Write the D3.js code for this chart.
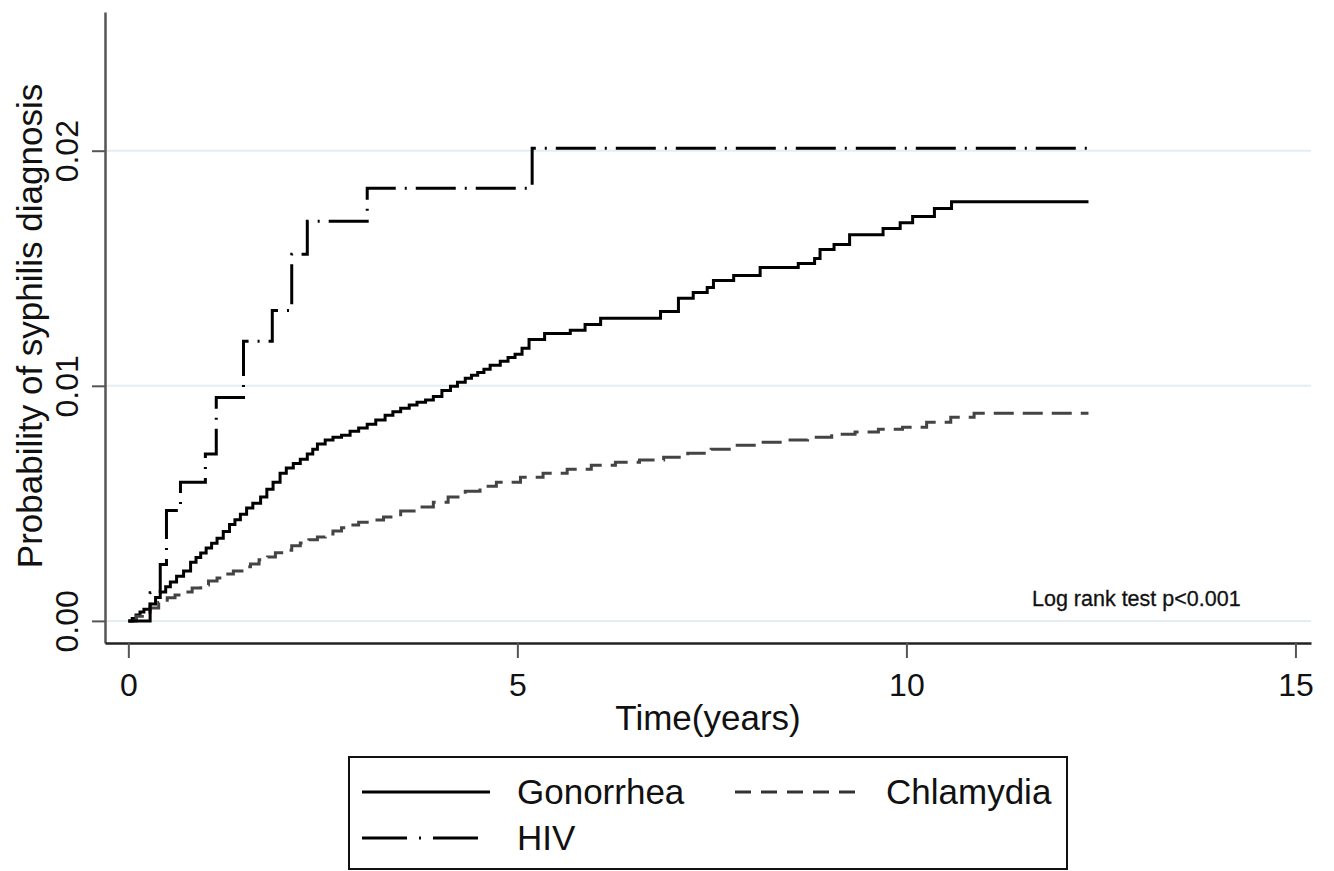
<!DOCTYPE html>
<html>
<head>
<meta charset="utf-8">
<script src="https://cdn.jsdelivr.net/npm/d3@7"></script>
<style>
  body { margin: 0; background: #fff; }
  text { font-family: "Liberation Sans", Arial, sans-serif; fill: #111; }
</style>
</head>
<body>
<div id="chart"></div>
<script>

// ticks
var timeTicks = [0, 5, 10, 15];
var probTicks = [0, 0.01, 0.02];

// end of follow-up (years)
var followUpEnd = 12.34;

// Kaplan-Meier failure estimates: [time, probability]
var gonorrhea = [
  [0, 0], [0.05, 0.0001], [0.1, 0.00025], [0.15, 0.00038], [0.2, 0.0005],
  [0.28, 0.00072], [0.35, 0.001], [0.41, 0.00123], [0.48, 0.00145], [0.54, 0.00166],
  [0.62, 0.0019], [0.71, 0.00212], [0.8, 0.0025], [0.87, 0.0027], [0.93, 0.00289],
  [1.0, 0.0031], [1.07, 0.0033], [1.14, 0.00352], [1.22, 0.0038], [1.3, 0.0041],
  [1.37, 0.0043], [1.44, 0.00454], [1.52, 0.0048], [1.6, 0.005], [1.7, 0.00527],
  [1.78, 0.0056], [1.86, 0.0059], [1.95, 0.00628], [2.03, 0.0065], [2.12, 0.0067],
  [2.21, 0.00688], [2.3, 0.0071], [2.37, 0.0073], [2.43, 0.00752], [2.53, 0.0077],
  [2.63, 0.00781], [2.74, 0.0079], [2.85, 0.00807], [2.96, 0.0082], [3.07, 0.00837],
  [3.18, 0.00855], [3.30, 0.00875], [3.40, 0.0089], [3.50, 0.00904], [3.61, 0.00918],
  [3.71, 0.0093], [3.82, 0.0094], [3.92, 0.00955], [4.03, 0.0098], [4.14, 0.00998],
  [4.23, 0.01015], [4.33, 0.01032], [4.41, 0.01045], [4.49, 0.01057], [4.57, 0.0107],
  [4.65, 0.01087], [4.78, 0.01104], [4.88, 0.0112], [4.97, 0.01134], [5.06, 0.0116],
  [5.15, 0.01197], [5.35, 0.01223], [5.68, 0.01236], [5.87, 0.01261], [6.07, 0.01287],
  [6.84, 0.01316], [7.07, 0.01372], [7.26, 0.01397], [7.44, 0.01418], [7.52, 0.01448],
  [7.78, 0.01469], [8.12, 0.01503], [8.61, 0.0152], [8.82, 0.01541], [8.89, 0.0158],
  [9.07, 0.01601], [9.27, 0.01643], [9.70, 0.01669], [9.92, 0.01694], [10.08, 0.0172],
  [10.36, 0.01754], [10.58, 0.01783]
];

var chlamydia = [
  [0, 0], [0.1, 0.0002], [0.18, 0.00038], [0.28, 0.00055], [0.39, 0.00078],
  [0.50, 0.00098], [0.6, 0.0011], [0.71, 0.00123], [0.82, 0.0014], [0.93, 0.00153],
  [1.03, 0.0017], [1.14, 0.00183], [1.25, 0.002], [1.35, 0.00212], [1.46, 0.0023],
  [1.57, 0.00242], [1.68, 0.0026], [1.79, 0.00272], [1.89, 0.0029], [1.99, 0.00301],
  [2.1, 0.0032], [2.21, 0.00331], [2.32, 0.00345], [2.43, 0.00357], [2.53, 0.0037],
  [2.63, 0.00382], [2.74, 0.00396], [2.85, 0.00408], [2.96, 0.0042], [3.07, 0.00429],
  [3.28, 0.00442], [3.50, 0.00467], [3.71, 0.00484], [3.92, 0.00505], [4.11, 0.00527],
  [4.33, 0.00552], [4.52, 0.00573], [4.73, 0.0059], [5.04, 0.00611], [5.33, 0.00628],
  [5.64, 0.00645], [5.95, 0.00662], [6.26, 0.00675], [6.57, 0.00684], [6.88, 0.00696],
  [7.19, 0.00713], [7.49, 0.0073], [7.80, 0.00747], [8.11, 0.0076], [8.42, 0.00769],
  [8.73, 0.00781], [9.04, 0.00794], [9.34, 0.00803], [9.64, 0.00815], [9.95, 0.00824],
  [10.26, 0.00845], [10.57, 0.00866], [10.87, 0.00883]
];

var hiv = [
  [0, 0], [0.28, 0.0012], [0.41, 0.0024], [0.49, 0.0047], [0.67, 0.0059],
  [0.99, 0.0071], [1.13, 0.0095], [1.48, 0.0119], [1.85, 0.0132], [2.10, 0.0156],
  [2.30, 0.0170], [3.07, 0.0184], [5.19, 0.0201]
];

var groups = ["Gonorrhea", "Chlamydia", "HIV"];

var width = 1334, height = 871;

var svg = d3.select("#chart").append("svg")
    .attr("width", width)
    .attr("height", height);

svg.append("rect").attr("width", width).attr("height", height).attr("fill", "white");

var x = d3.scaleLinear().domain([-0.3, 15.2]).range([105, 1311]);
var y = d3.scaleLinear().domain([-0.00094, 0.0259]).range([643, 12]);

// grid lines
svg.append("g")
    .selectAll("line")
    .data(probTicks)
    .enter().append("line")
    .attr("x1", x(-0.3)).attr("x2", x(15.2))
    .attr("y1", function(d) { return y(d); })
    .attr("y2", function(d) { return y(d); })
    .attr("stroke", "#e4eef2")
    .attr("stroke-width", 2);

// y axis
var yAxis = svg.append("g")
    .attr("transform", "translate(105,0)")
    .call(d3.axisLeft(y).tickValues(probTicks).tickFormat(d3.format(".2f")).tickSize(13).tickSizeOuter(0));
yAxis.select(".domain").attr("stroke", "#555").attr("stroke-width", 2.5);
yAxis.selectAll(".tick line").attr("stroke", "#555").attr("stroke-width", 2);
yAxis.selectAll(".tick text")
    .attr("x", 0).attr("dy", 0)
    .attr("text-anchor", "middle")
    .attr("transform", "translate(-27,0) rotate(-90)")
    .style("font-size", "32px")
    .style("font-family", "'Liberation Sans', Arial, sans-serif")
    .attr("fill", "#111");

// x axis
var xAxis = svg.append("g")
    .attr("transform", "translate(0,643)")
    .call(d3.axisBottom(x).tickValues(timeTicks).tickSize(15).tickPadding(15).tickSizeOuter(0));
xAxis.select(".domain").attr("stroke", "#222").attr("stroke-width", 2.5);
xAxis.selectAll(".tick line").attr("stroke", "#555").attr("stroke-width", 2);
xAxis.selectAll(".tick text")
    .style("font-size", "32px")
    .style("font-family", "'Liberation Sans', Arial, sans-serif")
    .attr("fill", "#111");

// axis titles
svg.append("text")
    .attr("transform", "translate(42,326) rotate(-90)")
    .attr("text-anchor", "middle")
    .style("font-size", "35px")
    .text("Probability of syphilis diagnosis");

svg.append("text")
    .attr("x", 708).attr("y", 730)
    .attr("text-anchor", "middle")
    .style("font-size", "35px")
    .text("Time(years)");

svg.append("text")
    .attr("x", 1032).attr("y", 606)
    .style("font-size", "21.5px")
    .style("stroke", "#111")
    .style("stroke-width", 0.3)
    .text("Log rank test p<0.001");

// curves
var line = d3.line()
    .x(function(d) { return x(d[0]); })
    .y(function(d) { return y(d[1]); })
    .curve(d3.curveStepAfter);

function withEnd(data) {
  return data.concat([[followUpEnd, data[data.length - 1][1]]]);
}

var styles = {
  "Gonorrhea": {data: gonorrhea, color: "#000", dash: null},
  "Chlamydia": {data: chlamydia, color: "#444", dash: "20,9"},
  "HIV": {data: hiv, color: "#000", dash: "40,9,2,9"}
};

groups.forEach(function(g) {
  svg.append("path")
      .datum(withEnd(styles[g].data))
      .attr("d", line)
      .attr("fill", "none")
      .attr("stroke", styles[g].color)
      .attr("stroke-width", 3)
      .attr("stroke-dasharray", styles[g].dash);
});

// legend
var legend = svg.append("g");
legend.append("rect")
    .attr("x", 349).attr("y", 757)
    .attr("width", 718).attr("height", 112)
    .attr("fill", "white")
    .attr("stroke", "#111")
    .attr("stroke-width", 2);

var legendItems = [
  {name: "Gonorrhea", lx: 362, ty: 804, tx: 517, dash: null, color: "#000"},
  {name: "Chlamydia", lx: 735, ty: 804, tx: 886, dash: "16,10", color: "#333"},
  {name: "HIV", lx: 362, ty: 850, tx: 517, dash: "45,12,2,12", color: "#000"}
];

legendItems.forEach(function(d) {
  legend.append("line")
      .attr("x1", d.lx).attr("x2", d.lx + 128)
      .attr("y1", d.ty - 12).attr("y2", d.ty - 12)
      .attr("stroke", d.color)
      .attr("stroke-width", 3)
      .attr("stroke-dasharray", d.dash);
  legend.append("text")
      .attr("x", d.tx).attr("y", d.ty)
      .style("font-size", "35px")
      .text(d.name);
});

</script>
</body>
</html>
